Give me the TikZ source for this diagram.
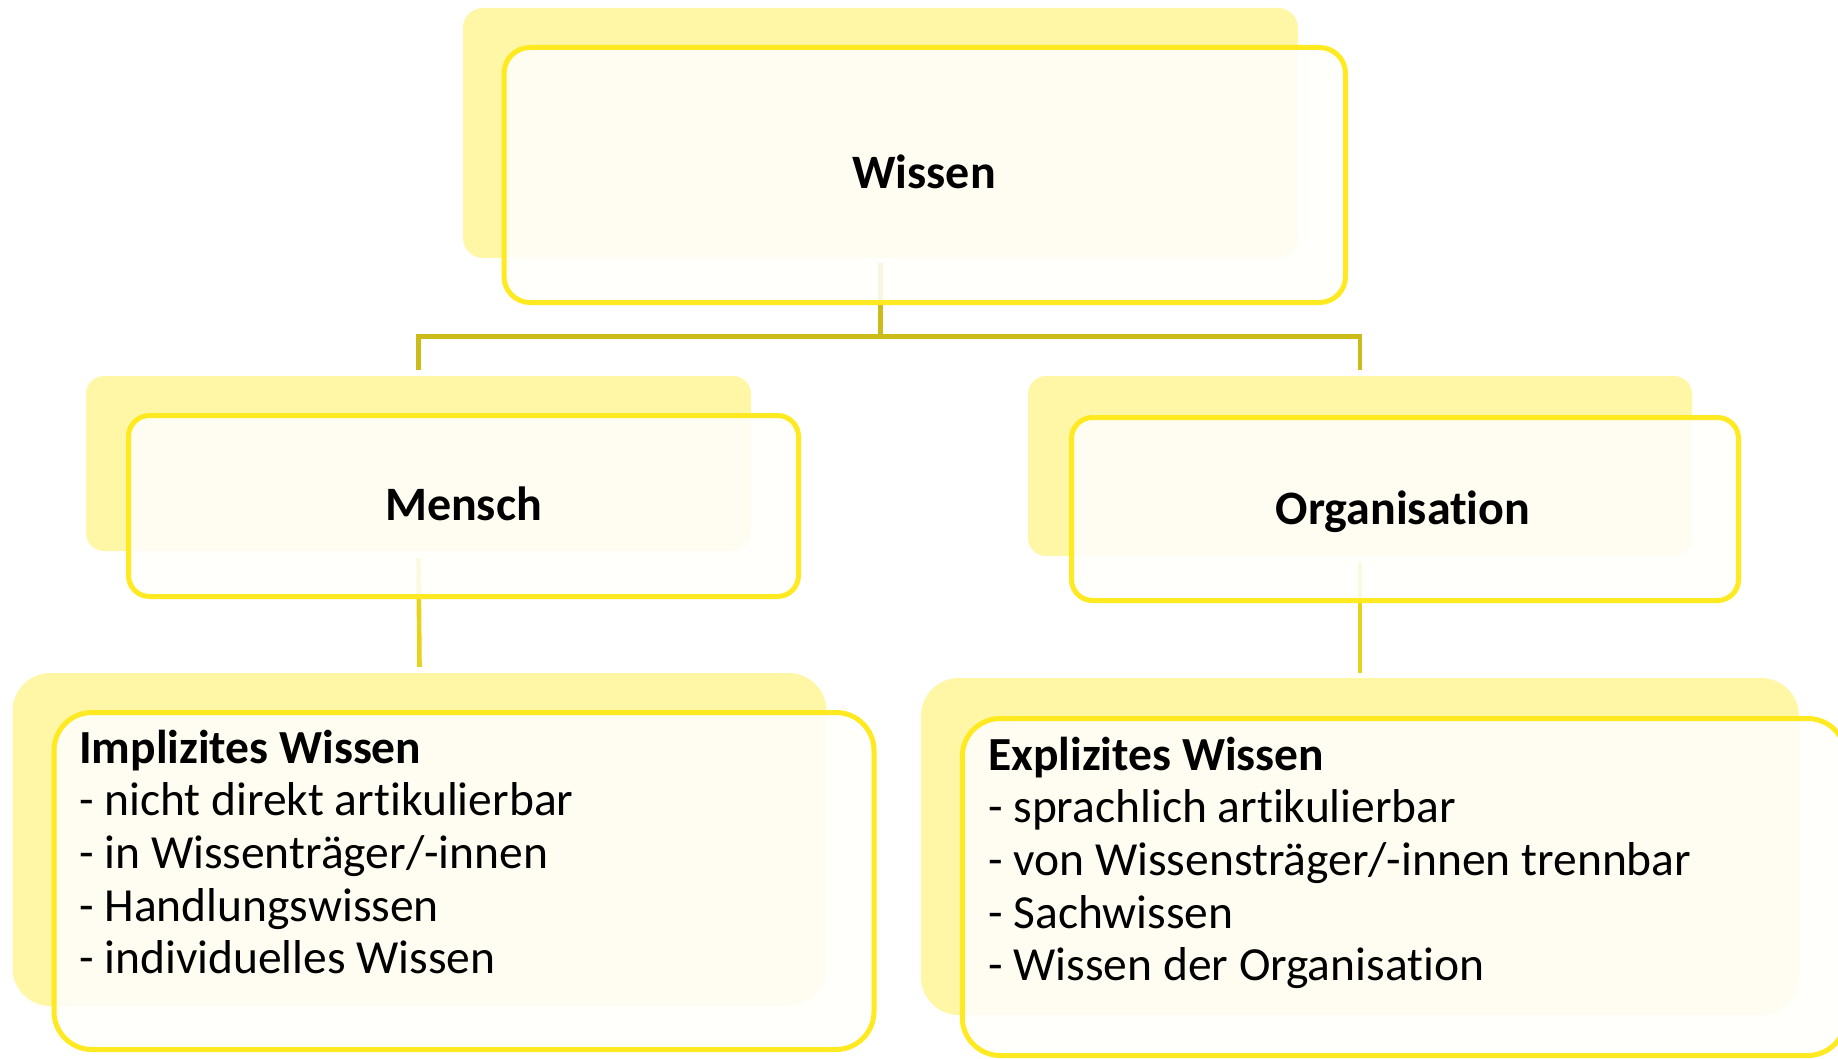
\documentclass[tikz,border=0pt]{standalone}
\usepackage{fontspec}
\setmainfont{Carlito}[Ligatures={NoCommon}]
\begin{document}
\definecolor{backfill}{HTML}{FFF6A6}
\definecolor{frontline}{HTML}{FFE920}
\definecolor{frontfill}{HTML}{FFFFFC}
\definecolor{treeline}{HTML}{CCBC1A}
\definecolor{linkline}{HTML}{E6D31C}
\begin{tikzpicture}[x=1pt,y=-1pt,
  backbox/.style={rectangle, fill=backfill, draw=none, inner sep=0pt},
  frontbox/.style={rectangle, draw=frontline, line width=5pt, fill=frontfill, fill opacity=0.88, inner sep=0pt},
  title/.style={anchor=base, inner sep=0pt, font=\fontsize{48}{58}\selectfont\bfseries},
  body/.style={anchor=base west, inner sep=0pt, font=\fontsize{47.5}{52.7}\selectfont},
  tree/.style={draw=treeline, line width=4.6pt},
  link/.style={draw=linkline, line width=4.6pt}]
\useasboundingbox (0,0) rectangle (1838,1059);

% back panels
\node[backbox, rounded corners=20pt, minimum width=835pt, minimum height=250pt] (wback) at (880.5,133) {};
\node[backbox, rounded corners=18pt, minimum width=665pt, minimum height=175pt] (mback) at (418.5,463.5) {};
\node[backbox, rounded corners=18pt, minimum width=664pt, minimum height=180pt] (oback) at (1360,466) {};
\node[backbox, rounded corners=38pt, minimum width=814pt, minimum height=333pt] (iback) at (419.5,839.5) {};
\node[backbox, rounded corners=38pt, minimum width=878pt, minimum height=337pt] (eback) at (1360,846.5) {};

% connectors (canvas y points up, so downward shifts are negative)
\coordinate (split) at ([yshift=-78pt]wback.south);
\draw[tree] ([yshift=-5pt]wback.south) -- (split);
\draw[tree] ([yshift=6pt]mback.north) |- (split) -| ([yshift=6pt]oback.north);
\draw[link] ([yshift=-7pt]mback.south) -- ([yshift=6pt]iback.north);
\draw[link] ([yshift=-7pt]oback.south) -- ([yshift=5pt]eback.north);

% front panels
\node[frontbox, rounded corners=26pt, minimum width=841.5pt, minimum height=255pt] (wfront) at (924.75,175) {};
\node[frontbox, rounded corners=21pt, minimum width=670pt, minimum height=181pt] (mfront) at (463.5,506) {};
\node[frontbox, rounded corners=21pt, minimum width=667pt, minimum height=183pt] (ofront) at (1405,509) {};
\node[frontbox, rounded corners=38pt, minimum width=820pt, minimum height=337pt] (ifront) at (464,881) {};
\node[frontbox, rounded corners=38pt, minimum width=883.5pt, minimum height=337pt] (efront) at (1404,887) {};

% labels
\node[title] (wtext) at (924,189) {Wissen};
\node[title] (mtext) at (463.5,520) {Mensch};
\node[title] (otext) at (1403,524) {Organisation};
\node[body] (itext) at (79,763) {\parbox[t]{760pt}{\raggedright
  \textbf{Implizites Wissen}\\
  - nicht direkt artikulierbar\\
  - in Wissenträger/-innen\\
  - Handlungswissen\\
  - individuelles Wissen}};
\node[body] (etext) at (988,770) {\parbox[t]{840pt}{\raggedright
  \textbf{Explizites Wissen}\\
  - sprachlich artikulierbar\\
  - von Wissensträger/-innen trennbar\\
  - Sachwissen\\
  - Wissen der Organisation}};
\end{tikzpicture}
\end{document}
